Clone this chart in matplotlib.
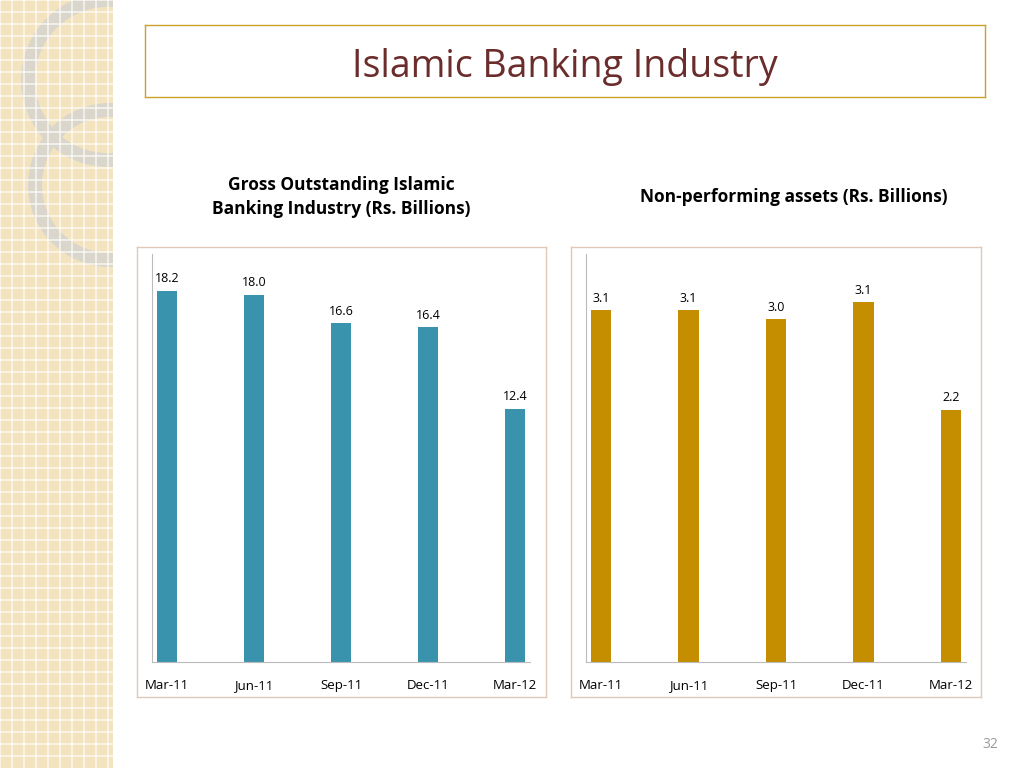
import matplotlib
matplotlib.use("Agg")
import matplotlib.pyplot as plt
from matplotlib.patches import Rectangle, Circle

quarters = ["Mar-11", "Jun-11", "Sep-11", "Dec-11", "Mar-12"]
gross = [18.2, 18.0, 16.6, 16.4, 12.4]
npa = [3.07, 3.07, 2.99, 3.14, 2.20]
npa_labels = ["3.1", "3.1", "3.0", "3.1", "2.2"]

W, H = 1024, 768
fig = plt.figure(figsize=(W/100, H/100), dpi=100)
fig.patch.set_facecolor("white")
FONT = "Open Sans"

def ax_px(x0, y0, x1, y1, **kw):
    return fig.add_axes([x0/W, 1-y1/H, (x1-x0)/W, (y1-y0)/H], **kw)

deco = ax_px(0, 0, 113, 768)
deco.set_xlim(0, 113); deco.set_ylim(768, 0); deco.axis("off")
deco.add_patch(Rectangle((0, 0), 113, 768, color="#F3E3BE"))
for i in range(0, 113, 12):
    deco.axvline(i, color="white", lw=1.2, alpha=0.7)
for j in range(0, 768, 12):
    deco.axhline(j, color="white", lw=1.2, alpha=0.7)
deco.add_patch(Circle((108, 80), 80, fill=False, ec="#DAD6CC", lw=10, clip_on=True))
deco.add_patch(Circle((110, 185), 75, fill=False, ec="#DAD6CC", lw=10, clip_on=True))

tb = ax_px(145, 25, 985, 97)
tb.set_xticks([]); tb.set_yticks([])
for s in tb.spines.values():
    s.set_color("#C9A227"); s.set_linewidth(1)
tb.text(0.5, 0.42, "Islamic Banking Industry", ha="center", va="center",
        fontsize=27, color="#6B2C2C", family=FONT, transform=tb.transAxes)

fig.text(341/W, 1-197/H, "Gross Outstanding Islamic\nBanking Industry (Rs. Billions)",
         ha="center", va="center", fontsize=12.5, fontweight="bold", family=FONT,
         linespacing=1.5)
fig.text(794/W, 1-197/H, "Non-performing assets (Rs. Billions)",
         ha="center", va="center", fontsize=12.5, fontweight="bold", family=FONT)

def panel(bx0, bx1, ax0, ax1, ytop, values, labels, color):
    box = ax_px(bx0, 247, bx1, 697)
    box.set_xticks([]); box.set_yticks([])
    for s in box.spines.values():
        s.set_color("#E0C8B8"); s.set_linewidth(1)
    ax = ax_px(ax0, 254, ax1, 662)
    ax.patch.set_alpha(0)
    x = range(len(quarters))
    ax.bar(x, values, width=0.23, color=color)
    ax.set_xlim(-0.17, len(quarters)-1+0.17)
    ax.set_ylim(0, ytop)
    ax.set_yticks([])
    ax.set_xticks(list(x))
    ax.set_xticklabels(quarters, family=FONT, fontsize=9.5)
    ax.tick_params(axis="x", length=0, pad=12)
    for s in ["top", "right"]:
        ax.spines[s].set_visible(False)
    ax.spines["left"].set_color("#BBBBBB")
    ax.spines["bottom"].set_color("#BBBBBB")
    for i, (v, l) in enumerate(zip(values, labels)):
        ax.annotate(l, (i, v), xytext=(0, 4), textcoords="offset points",
                    ha="center", va="bottom", fontsize=9, family=FONT)

panel(137, 546, 152, 530, 20.0, gross, [f"{v:.1f}" for v in gross], "#3A93AD")
panel(571, 981, 586, 966, 3.56, npa, npa_labels, "#C48E00")

fig.text(990/W, 1-745/H, "32", ha="center", va="center", fontsize=10,
         color="#999999", family=FONT)

fig.savefig("out.png", dpi=100)
